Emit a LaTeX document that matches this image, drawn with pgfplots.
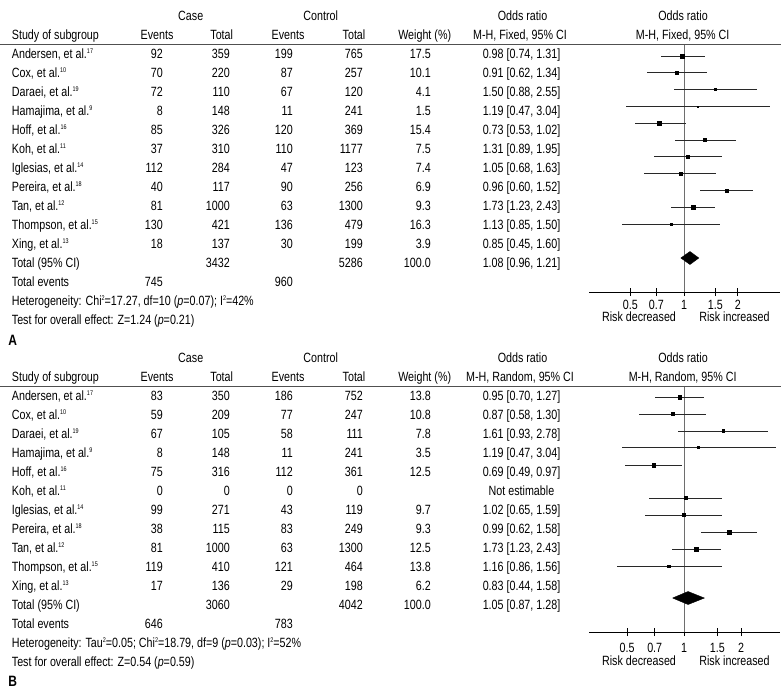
\documentclass[border=0pt]{standalone}
\usepackage{pgfplots}
\usepackage{pgfplotstable}
\pgfplotsset{compat=1.18}
\usepackage{fontspec}
\setmainfont[FakeStretch=0.80]{Liberation Sans}
\definecolor{vline}{RGB}{110,110,110}
\definecolor{ciline}{RGB}{40,40,40}
\definecolor{rule}{RGB}{80,80,80}
\newcommand\sups[1]{\raisebox{5.3pt}{\fontsize{6.8}{6.8}\selectfont #1}}
\newcommand\rowtext[9]{%
  \node[anchor=base west] at (11.7,#1+4.6) {#2\sups{#3}};
  \node[anchor=base east] at (163,#1+4.6) {#4};
  \node[anchor=base east] at (230,#1+4.6) {#5};
  \node[anchor=base east] at (293,#1+4.6) {#6};
  \node[anchor=base east] at (363,#1+4.6) {#7};
  \node[anchor=base east] at (431,#1+4.6) {#8};
  \node[anchor=base] at (521.5,#1+4.6) {#9};
}
\newcommand\headers[2]{% #1 = y offset, #2 = method
  \node[anchor=base] at (190.7,#1+16+4.6) {Case};
  \node[anchor=base] at (320.7,#1+16+4.6) {Control};
  \node[anchor=base] at (522.5,#1+16+4.6) {Odds ratio};
  \node[anchor=base] at (683,#1+16+4.6) {Odds ratio};
  \node[anchor=base west] at (11.7,#1+35+4.6) {Study of subgroup};
  \node[anchor=base] at (157,#1+35+4.6) {Events};
  \node[anchor=base] at (221.7,#1+35+4.6) {Total};
  \node[anchor=base] at (288,#1+35+4.6) {Events};
  \node[anchor=base] at (354,#1+35+4.6) {Total};
  \node[anchor=base] at (424.7,#1+35+4.6) {Weight (\%)};
  \node[anchor=base] at (520,#1+35+4.6) {M-H, #2, 95\% CI};
  \node[anchor=base] at (682.7,#1+35+4.6) {M-H, #2, 95\% CI};
  \draw[rule, line width=0.8pt] (0,#1+44) -- (781,#1+44);
}

\pgfplotstableread{
y      or    lo    hi    ms
-56    0.98  0.74  1.31  2.09
-72.8  0.91  0.62  1.34  1.59
-89.6  1.50  0.88  2.55  1.01
-106.4 1.19  0.47  3.04  0.61
-123.2 0.73  0.53  1.02  1.96
-140   1.31  0.89  1.95  1.37
-156.8 1.05  0.68  1.63  1.36
-173.6 0.96  0.60  1.52  1.31
-190.4 1.73  1.23  2.43  1.52
-207.2 1.13  0.85  1.50  2.02
-224   0.85  0.45  1.60  0.99
}\dataA

\pgfplotstableread{
y      or    lo    hi    ms
-397   0.95  0.70  1.27  1.86
-414   0.87  0.58  1.30  1.64
-431   1.61  0.93  2.78  1.40
-447.5 1.19  0.47  3.04  0.94
-465   0.69  0.49  0.97  1.77
-498   1.02  0.65  1.59  1.56
-515   0.99  0.62  1.58  1.52
-532   1.73  1.23  2.43  1.77
-549   1.16  0.86  1.56  1.86
-566   0.83  0.44  1.58  1.25
}\dataB

\pgfplotsset{forest/.style={
  anchor=south west, scale only axis, width=191pt,
  axis x line*=bottom, axis y line=none, ytick=\empty,
  xtick={0.5,0.7,1,1.5,2}, xticklabels={0.5,0.7,1,1.5,2},
  xminorticks=false, tick align=center, major tick length=8pt,
  axis line style={black, line width=0.8pt},
  tick style={black, line width=0.8pt},
  ticklabel style={font=\fontsize{13.4}{15}\selectfont},
  /pgf/number format/assume math mode=true,
  clip=false,
}}

\newcommand\forestplot[1]{%
  \addplot[scatter, only marks, mark=square*,
    scatter/use mapped color={draw=black, fill=black},
    visualization depends on={\thisrow{ms} \as \msz},
    scatter/@pre marker code/.append style={/tikz/mark size=\msz},
    error bars/.cd, x dir=both, x explicit, error mark=none,
    error bar style={ciline, line width=0.9pt}]
    table[x=or, y=y,
      x error plus expr=\thisrow{hi}-\thisrow{or},
      x error minus expr=\thisrow{or}-\thisrow{lo}] {#1};
}

\begin{document}
\begin{tikzpicture}[font=\fontsize{13.4}{15}\selectfont]
\begin{scope}[x=1pt,y=-1pt, every node/.style={inner sep=0pt}]
\path[use as bounding box] (0,0) rectangle (781,689);

% ---------- Panel A ----------
\headers{0}{Fixed}
\rowtext{54}{Andersen, et al.}{17}{92}{359}{199}{765}{17.5}{0.98 [0.74, 1.31]}
\rowtext{73}{Cox, et al.}{10}{70}{220}{87}{257}{10.1}{0.91 [0.62, 1.34]}
\rowtext{92}{Daraei, et al.}{19}{72}{110}{67}{120}{4.1}{1.50 [0.88, 2.55]}
\rowtext{111}{Hamajima, et al.}{9}{8}{148}{11}{241}{1.5}{1.19 [0.47, 3.04]}
\rowtext{130}{Hoff, et al.}{16}{85}{326}{120}{369}{15.4}{0.73 [0.53, 1.02]}
\rowtext{149}{Koh, et al.}{11}{37}{310}{110}{1177}{7.5}{1.31 [0.89, 1.95]}
\rowtext{168}{Iglesias, et al.}{14}{112}{284}{47}{123}{7.4}{1.05 [0.68, 1.63]}
\rowtext{187}{Pereira, et al.}{18}{40}{117}{90}{256}{6.9}{0.96 [0.60, 1.52]}
\rowtext{206}{Tan, et al.}{12}{81}{1000}{63}{1300}{9.3}{1.73 [1.23, 2.43]}
\rowtext{225}{Thompson, et al.}{15}{130}{421}{136}{479}{16.3}{1.13 [0.85, 1.50]}
\rowtext{244}{Xing, et al.}{13}{18}{137}{30}{199}{3.9}{0.85 [0.45, 1.60]}
\rowtext{263}{Total (95\% CI)}{}{}{3432}{}{5286}{100.0}{1.08 [0.96, 1.21]}
\rowtext{282}{Total events}{}{745}{}{960}{}{}{}
\node[anchor=base west] at (11.7,301+4.6) {Heterogeneity: Chi\sups{2}=17.27, df=10 (\textit{p}=0.07); I\sups{2}=42\%};
\node[anchor=base west] at (11.7,320+4.6) {Test for overall effect: Z=1.24 (\textit{p}=0.21)};
\node[anchor=base west, font=\bfseries\fontsize{15}{16}\selectfont] at (8.3,340+5.2) {A};
\node[anchor=base] at (639,317.3+4.6) {Risk decreased};
\node[anchor=base] at (734.5,317.3+4.6) {Risk increased};

% ---------- Panel B ----------
\headers{342}{Random}
\rowtext{396}{Andersen, et al.}{17}{83}{350}{186}{752}{13.8}{0.95 [0.70, 1.27]}
\rowtext{415}{Cox, et al.}{10}{59}{209}{77}{247}{10.8}{0.87 [0.58, 1.30]}
\rowtext{434}{Daraei, et al.}{19}{67}{105}{58}{111}{7.8}{1.61 [0.93, 2.78]}
\rowtext{453}{Hamajima, et al.}{9}{8}{148}{11}{241}{3.5}{1.19 [0.47, 3.04]}
\rowtext{472}{Hoff, et al.}{16}{75}{316}{112}{361}{12.5}{0.69 [0.49, 0.97]}
\rowtext{491}{Koh, et al.}{11}{0}{0}{0}{0}{}{Not estimable}
\rowtext{510}{Iglesias, et al.}{14}{99}{271}{43}{119}{9.7}{1.02 [0.65, 1.59]}
\rowtext{529}{Pereira, et al.}{18}{38}{115}{83}{249}{9.3}{0.99 [0.62, 1.58]}
\rowtext{548}{Tan, et al.}{12}{81}{1000}{63}{1300}{12.5}{1.73 [1.23, 2.43]}
\rowtext{567}{Thompson, et al.}{15}{119}{410}{121}{464}{13.8}{1.16 [0.86, 1.56]}
\rowtext{586}{Xing, et al.}{13}{17}{136}{29}{198}{6.2}{0.83 [0.44, 1.58]}
\rowtext{605}{Total (95\% CI)}{}{}{3060}{}{4042}{100.0}{1.05 [0.87, 1.28]}
\rowtext{624}{Total events}{}{646}{}{783}{}{}{}
\node[anchor=base west] at (11.7,643+4.6) {Heterogeneity: Tau\sups{2}=0.05; Chi\sups{2}=18.79, df=9 (\textit{p}=0.03); I\sups{2}=52\%};
\node[anchor=base west] at (11.7,662+4.6) {Test for overall effect: Z=0.54 (\textit{p}=0.59)};
\node[anchor=base west, font=\bfseries\fontsize{15}{16}\selectfont] at (8.3,686) {B};
\node[anchor=base] at (639,661+4.6) {Risk decreased};
\node[anchor=base] at (734.5,661+4.6) {Risk increased};
\end{scope}

% ---------- Forest plot A ----------
\begin{semilogxaxis}[forest, at={(589pt,-292pt)}, height=248pt,
  xmin=0.2935, xmax=3.451, ymin=-292, ymax=-44,
  xticklabel style={anchor=base, inner sep=0pt, yshift=-13.6pt}]
\addplot[vline, line width=0.9pt] coordinates {(1,-45) (1,-292)};
\forestplot{\dataA}
\addplot[fill=black, draw=black] coordinates {(0.96,-258) (1.08,-251.5) (1.21,-258) (1.08,-264.5) (0.96,-258)};
\end{semilogxaxis}

% ---------- Forest plot B ----------
\begin{semilogxaxis}[forest, at={(589pt,-632pt)}, height=246pt,
  xmin=0.315, xmax=3.21, ymin=-632, ymax=-386,
  xticklabel style={anchor=base, inner sep=0pt, yshift=-16.6pt}]
\addplot[vline, line width=0.9pt] coordinates {(1,-387) (1,-632)};
\forestplot{\dataB}
\addplot[fill=black, draw=black] coordinates {(0.87,-598) (1.05,-591.5) (1.28,-598) (1.05,-604.5) (0.87,-598)};
\end{semilogxaxis}
\end{tikzpicture}
\end{document}
